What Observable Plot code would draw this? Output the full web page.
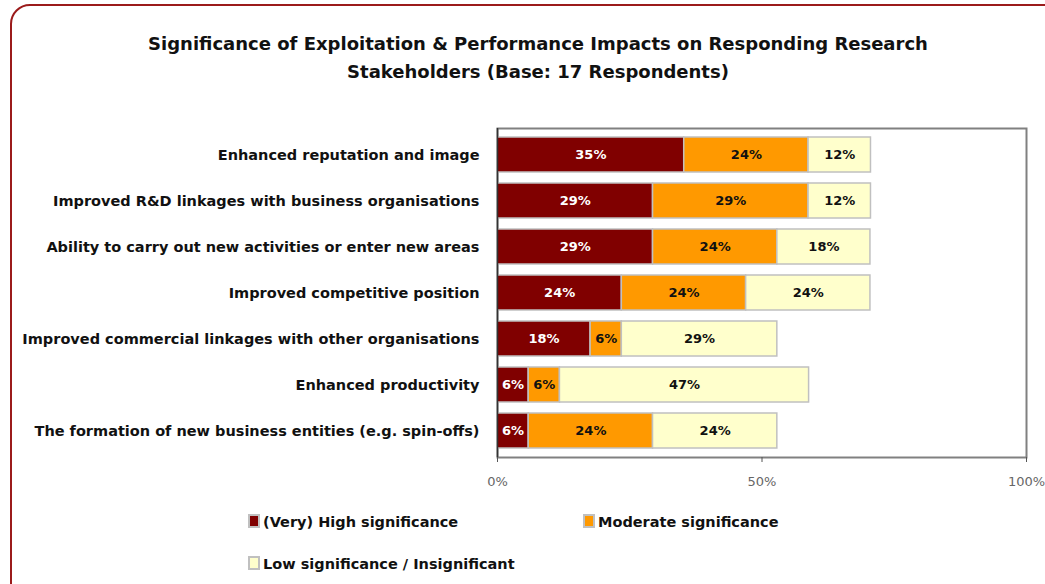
<!DOCTYPE html>
<html><head><meta charset="utf-8">
<script src="https://cdn.jsdelivr.net/npm/d3@7"></script>
<script src="https://cdn.jsdelivr.net/npm/@observablehq/plot@0.6"></script>
<style>
body{margin:0;background:#fff;font-family:"DejaVu Sans",sans-serif;}
#wrap{position:relative;width:1045px;height:584px;overflow:hidden;background:#fff;}
#border{position:absolute;left:10px;top:4px;width:1100px;height:600px;border:2px solid #9b1b1b;border-radius:20px;box-sizing:border-box;}
#chart{position:absolute;left:0;top:0;}
#title{position:absolute;left:0;width:1076px;top:30px;text-align:center;font-weight:bold;font-size:18px;line-height:28px;color:#111;}
.leg{position:absolute;font-weight:bold;font-size:14.5px;color:#111;white-space:nowrap;line-height:18px;}
.sw{display:inline-block;width:8px;height:10px;border:2px solid #c0c0c0;margin-right:3px;vertical-align:-1px;}
</style>
</head><body>
<div id="wrap">
<div id="border"></div>
<div id="title">Significance of Exploitation &amp; Performance Impacts on Responding Research<br>Stakeholders (Base: 17 Respondents)</div>
<div id="chart"></div>
<div id="legend"></div>
</div>
<script>
const categories = [
  "Enhanced reputation and image",
  "Improved R&D linkages with business organisations",
  "Ability to carry out new activities or enter new areas",
  "Improved competitive position",
  "Improved commercial linkages with other organisations",
  "Enhanced productivity",
  "The formation of new business entities (e.g. spin-offs)"
];
const seriesNames = ["(Very) High significance", "Moderate significance", "Low significance / Insignificant"];
const seriesColors = ["#800000", "#ff9900", "#ffffcc"];
const labelColors = ["#ffffff", "#111111", "#111111"];
const highValues = [35.3, 29.4, 29.4, 23.5, 17.6, 5.9, 5.9];
const moderateValues = [23.5, 29.4, 23.5, 23.5, 5.9, 5.9, 23.5];
const lowValues = [11.8, 11.8, 17.6, 23.5, 29.4, 47.1, 23.5];
const xTicks = [0, 50, 100];

const seriesValues = [highValues, moderateValues, lowValues];
const rows = [];
categories.forEach((c, i) => {
  let start = 0;
  seriesValues.forEach((vals, s) => {
    const v = vals[i];
    rows.push({cat: c, series: seriesNames[s], si: s, value: v, x1: start, x2: start + v});
    start += v;
  });
});

const chart = Plot.plot({
  width: 1045,
  height: 584,
  marginTop: 128,
  marginBottom: 127,
  marginLeft: 497,
  marginRight: 19,
  style: {fontFamily: "DejaVu Sans, sans-serif", background: "transparent", overflow: "visible"},
  x: {domain: [0, 100], ticks: xTicks, tickFormat: d => d + "%"},
  y: {domain: categories, paddingInner: 0.25, paddingOuter: 0.13},
  color: {domain: seriesNames, range: seriesColors},
  marks: [
    Plot.frame({stroke: "#808080", strokeWidth: 2}),
    Plot.barX(rows, {x1: "x1", x2: "x2", y: "cat", fill: "series", stroke: "#c0c0c0", strokeWidth: 1.5}),
    ...[0, 1, 2].map(s => Plot.text(rows.filter(d => d.si === s), {
      x: d => (d.x1 + d.x2) / 2, y: "cat", text: d => Math.round(d.value) + "%",
      fill: labelColors[s], fontWeight: "bold", fontSize: 13
    })),
    Plot.ruleX([0], {stroke: "#333", strokeWidth: 1.5}),
    Plot.axisX({ticks: xTicks, tickFormat: d => d + "%", tickSize: 5, tickPadding: 14, stroke: "#555", fill: "#666", fontSize: 13, label: null}),
    Plot.axisY({tickSize: 0, tickPadding: 18, fontSize: 14.5, fontWeight: "bold", fill: "#111", label: null})
  ]
});
document.getElementById("chart").appendChild(chart);

const legendPos = [[248, 513], [583, 513], [248, 555]];
const leg = document.getElementById("legend");
seriesNames.forEach((n, i) => {
  const d = document.createElement("div");
  d.className = "leg";
  d.style.left = legendPos[i][0] + "px";
  d.style.top = legendPos[i][1] + "px";
  d.innerHTML = `<span class="sw" style="background:${seriesColors[i]}"></span>` + n.replace("&", "&amp;");
  leg.appendChild(d);
});
</script>
</body></html>
